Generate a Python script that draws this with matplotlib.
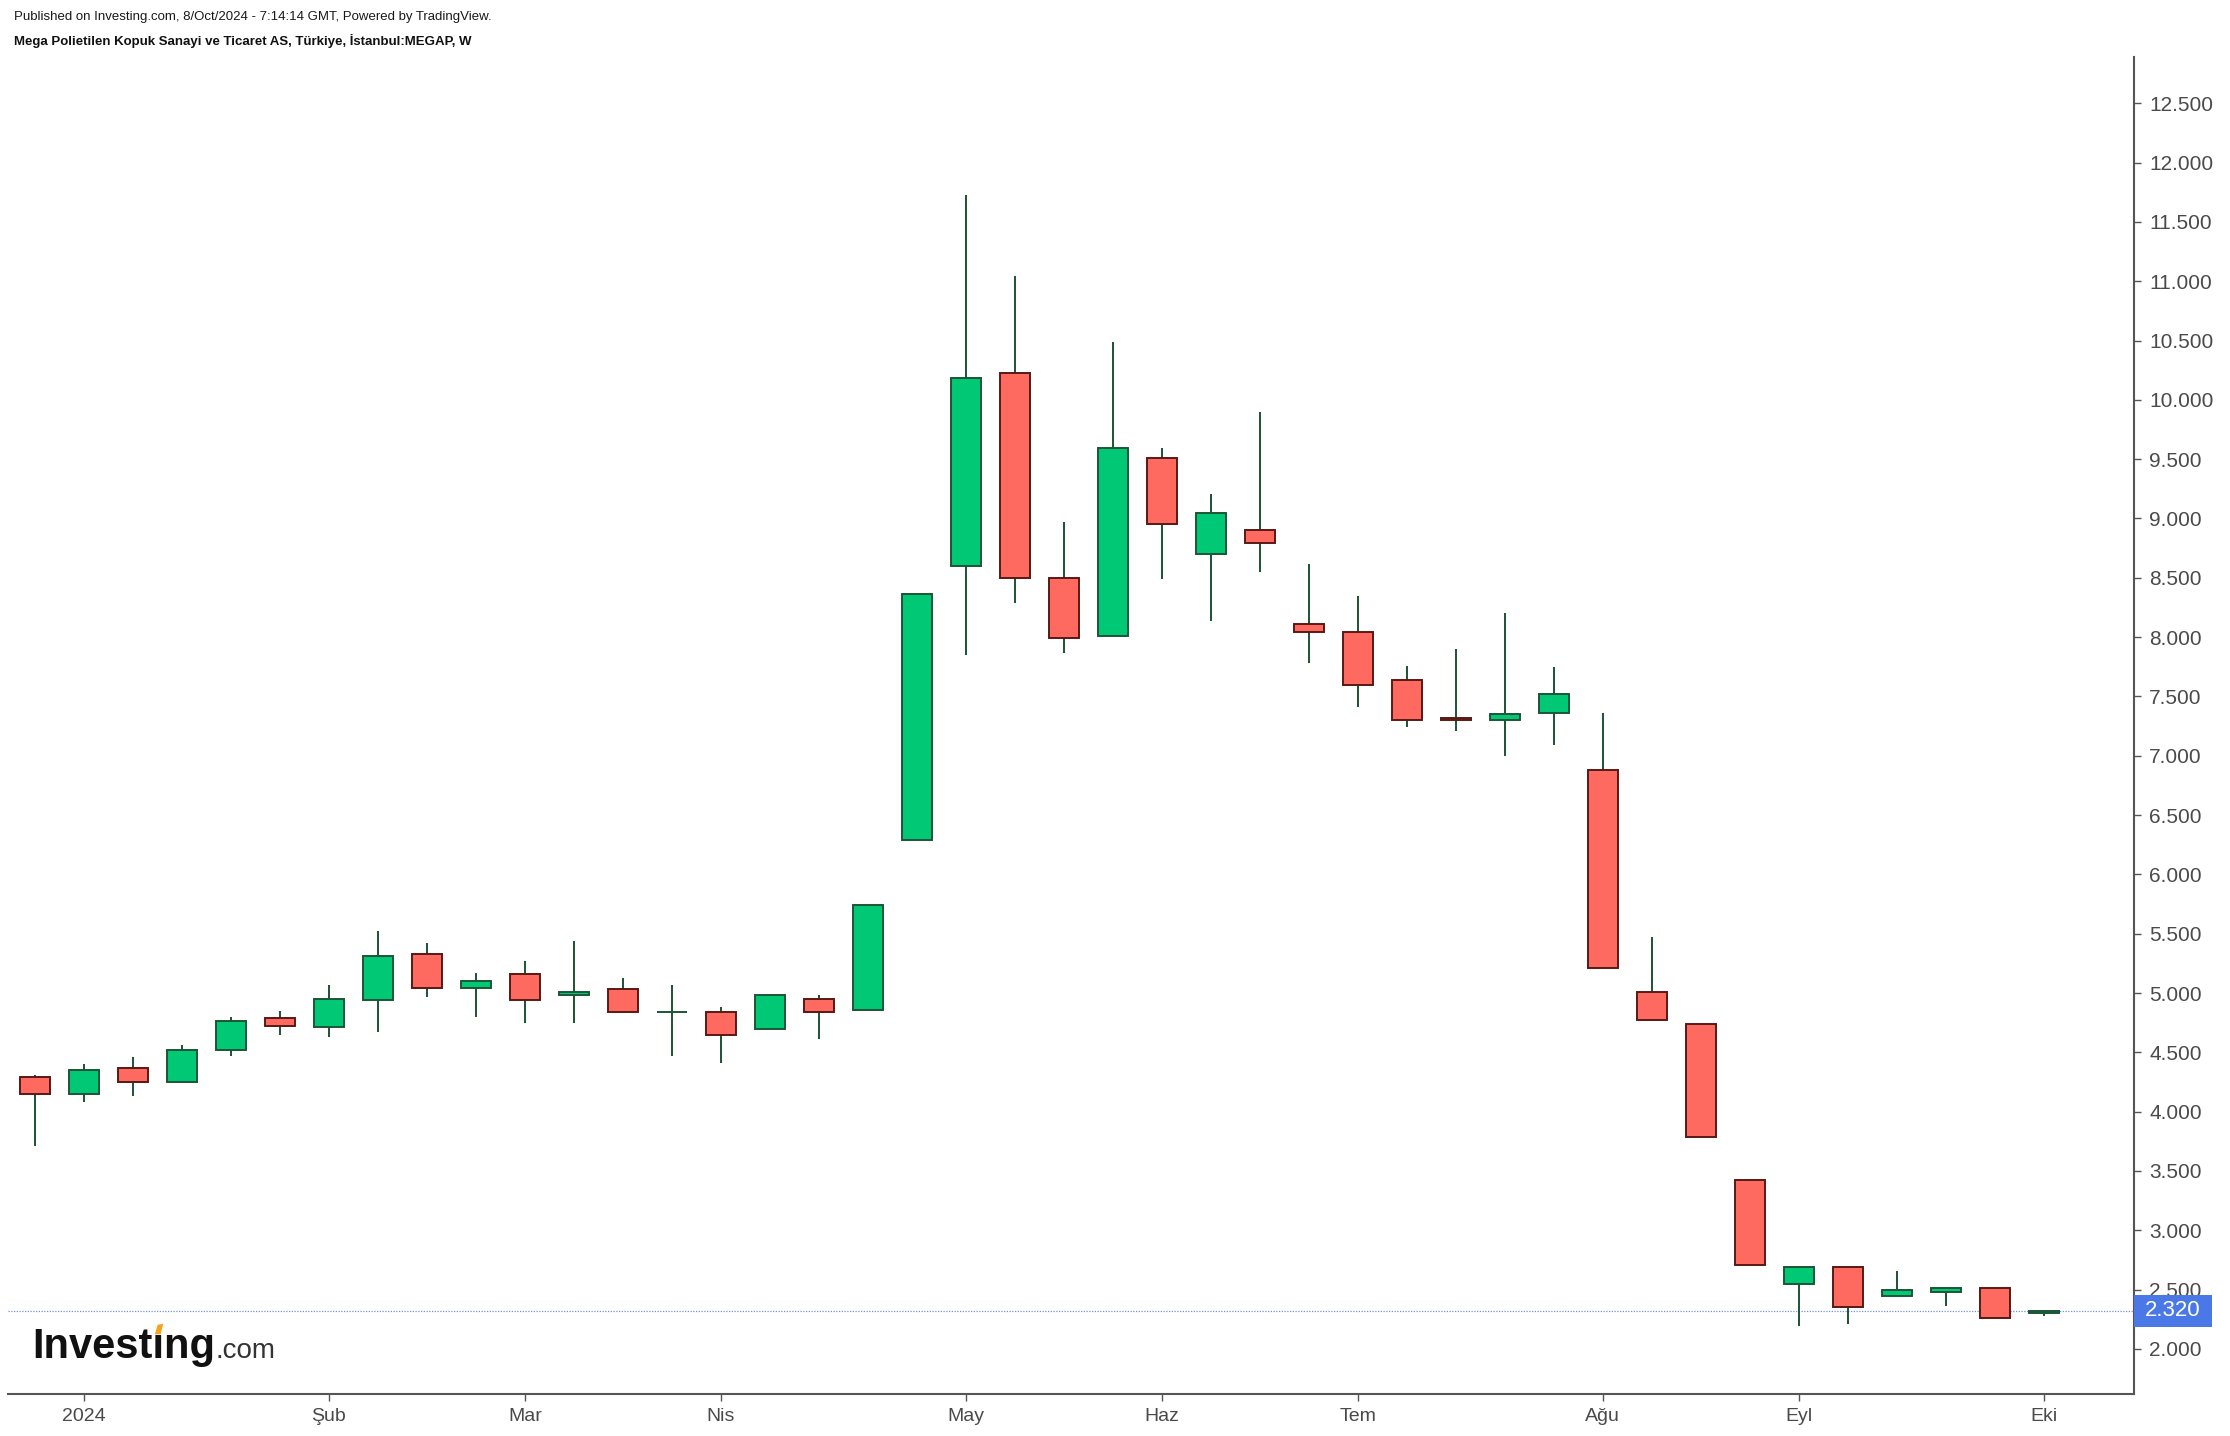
import numpy as np
import pandas as pd
import matplotlib
matplotlib.use('Agg')
import matplotlib.pyplot as plt
from matplotlib import font_manager
from matplotlib.patches import Rectangle, Polygon
from matplotlib.transforms import blended_transform_factory

# ---------------- data ----------------
week_start = pd.date_range('2023-12-25', periods=42, freq='7D')
opens = [4.29, 4.15, 4.37, 4.25, 4.52, 4.79, 4.71, 4.94, 5.33, 5.04,
         5.16, 4.98, 5.03, 4.84, 4.84, 4.70, 4.95, 4.86, 6.29, 8.60,
         10.23, 8.50, 8.01, 9.51, 8.70, 8.90, 8.11, 8.04, 7.64, 7.32,
         7.30, 7.36, 6.88, 5.01, 4.74, 3.42, 2.55, 2.69, 2.45, 2.48,
         2.51, 2.30]
highs = [4.31, 4.40, 4.46, 4.56, 4.80, 4.85, 5.07, 5.52, 5.42, 5.17,
         5.27, 5.44, 5.13, 5.07, 4.88, 4.99, 4.98, 5.74, 8.36, 11.73,
         11.04, 8.97, 10.49, 9.59, 9.21, 9.90, 8.62, 8.35, 7.76, 7.90,
         8.20, 7.75, 7.36, 5.47, 4.74, 3.42, 2.69, 2.69, 2.66, 2.51,
         2.51, 2.32]
lows = [3.71, 4.08, 4.13, 4.25, 4.47, 4.65, 4.63, 4.67, 4.97, 4.80,
        4.75, 4.75, 4.84, 4.47, 4.41, 4.70, 4.61, 4.86, 6.29, 7.85,
        8.29, 7.87, 8.01, 8.49, 8.14, 8.55, 7.78, 7.41, 7.24, 7.21,
        7.00, 7.09, 5.21, 4.77, 3.79, 2.71, 2.19, 2.21, 2.45, 2.36,
        2.26, 2.28]
closes = [4.15, 4.35, 4.25, 4.52, 4.76, 4.72, 4.95, 5.31, 5.04, 5.10,
          4.94, 5.01, 4.84, 4.84, 4.65, 4.98, 4.84, 5.74, 8.36, 10.18,
          8.50, 7.99, 9.59, 8.95, 9.05, 8.79, 8.04, 7.60, 7.30, 7.30,
          7.35, 7.52, 5.21, 4.77, 3.79, 2.71, 2.69, 2.35, 2.50, 2.51,
          2.26, 2.32]
last_price = 2.32
month_names = ['Oca', 'Şub', 'Mar', 'Nis', 'May', 'Haz', 'Tem', 'Ağu',
               'Eyl', 'Eki', 'Kas', 'Ara']
y_ticks = [2.0, 2.5, 3.0, 3.5, 4.0, 4.5, 5.0, 5.5, 6.0, 6.5, 7.0, 7.5,
           8.0, 8.5, 9.0, 9.5, 10.0, 10.5, 11.0, 11.5, 12.0, 12.5]
header1 = 'Published on Investing.com, 8/Oct/2024 - 7:14:14 GMT, Powered by TradingView.'
header2 = 'Mega Polietilen Kopuk Sanayi ve Ticaret AS, Türkiye, İstanbul:MEGAP, W'

# ---------------- style ----------------
W, H = 2230, 1436
UP_FILL, DOWN_FILL = '#00C875', '#FF6A60'
UP_EDGE, DOWN_EDGE = '#1C5536', '#5A1814'
WICK = '#1B5234'
AXIS_C = '#555555'
LABEL_C = '#4a4a4a'

names = {f.name for f in font_manager.fontManager.ttflist}
has_narrow = 'Liberation Sans Narrow' in names
NARROW = ['Liberation Sans Narrow', 'Liberation Sans', 'DejaVu Sans'] if has_narrow else ['Liberation Sans', 'DejaVu Sans']
REG = ['Liberation Sans', 'DejaVu Sans']
plt.rcParams['font.family'] = REG

fig = plt.figure(figsize=(W / 100, H / 100), dpi=100)
ax_l, ax_r, ax_t, ax_b = 8, 2134, 57, 1394
ax = fig.add_axes([ax_l / W, 1 - ax_b / H, (ax_r - ax_l) / W, (ax_b - ax_t) / H])

n = len(opens)
x = np.arange(n)
o = np.array(opens); c = np.array(closes)
up = c >= o
bottoms = np.minimum(o, c)
heights = np.abs(c - o)
fills = [UP_FILL if u else DOWN_FILL for u in up]
edges = [UP_EDGE if u else DOWN_EDGE for u in up]

ax.vlines(x, lows, highs, color=WICK, lw=1.4, zorder=2)
ax.bar(x, heights, bottom=bottoms, width=0.6, color=fills, edgecolor=edges,
       linewidth=1.4, zorder=3)

y_lo, y_hi = 1.62, 12.89
ax.set_xlim(-0.551, 42.84)
ax.set_ylim(y_lo, y_hi)

# price line
ax.axhline(last_price, color='#7090ea', lw=0.9, ls=(0, (1, 1.2)), zorder=1)

# spines
for s in ['left', 'top']:
    ax.spines[s].set_visible(False)
for s in ['right', 'bottom']:
    ax.spines[s].set_color(AXIS_C)
    ax.spines[s].set_linewidth(1.5)

# y axis
ax.yaxis.tick_right()
ax.set_yticks(y_ticks)
ax.set_yticklabels([f'{v:.3f}' for v in y_ticks])
ax.tick_params(axis='y', direction='out', length=5, width=1, color=AXIS_C,
               labelcolor=LABEL_C, labelsize=15, pad=6)

# x axis: first week starting in each new month
tick_pos, tick_lab = [], []
for i, d in enumerate(week_start):
    if i == 0:
        continue
    if d.month != week_start[i - 1].month:
        tick_pos.append(i)
        tick_lab.append(str(d.year) if d.month == 1 else month_names[d.month - 1])
ax.set_xticks(tick_pos)
ax.set_xticklabels(tick_lab, family=NARROW)
ax.tick_params(axis='x', direction='out', length=5, width=1, color=AXIS_C,
               labelcolor=LABEL_C, labelsize=16 if has_narrow else 14, pad=5)

# price label box
trans = blended_transform_factory(ax.transAxes, ax.transData)
px_per_unit = (ax_b - ax_t) / (y_hi - y_lo)
bw = 78 / (ax_r - ax_l)
bh = 32 / px_per_unit
ax.add_patch(Rectangle((1.0, last_price - bh / 2), bw, bh, transform=trans,
                       facecolor='#4A78E6', edgecolor='none', clip_on=False, zorder=10))
ax.text(1.0 + bw / 2, last_price, f'{last_price:.3f}', transform=trans, ha='center',
        va='center', color='white', fontsize=16, zorder=11, clip_on=False)

# header
hs = 11.5 if has_narrow else 9.5
fig.text(14 / W, 1 - 17 / H, header1, fontsize=hs, va='center', ha='left',
         color='#1a1a1a', family=NARROW)
fig.text(14 / W, 1 - 41 / H, header2, fontsize=hs, va='center', ha='left',
         color='#111111', weight='bold', family=NARROW)

# logo
base_y = 1 - 1358 / H
x0 = 32
fs_logo = 30
t1 = fig.text(x0 / W, base_y, 'Investıng', fontsize=fs_logo, weight='bold', va='baseline',
              ha='left', color='#111111')
fig.canvas.draw()
r = fig.canvas.get_renderer()
bb1 = t1.get_window_extent(r)
tmp = fig.text(x0 / W, base_y, 'Invest', fontsize=fs_logo, weight='bold', va='baseline', ha='left')
w_a = tmp.get_window_extent(r).width
tmp.set_text('Investı')
w_b = tmp.get_window_extent(r).width
tmp.remove()
fig.text(bb1.x1 / W, base_y, '.com', fontsize=20, va='baseline', ha='left', color='#333333')
em = fs_logo * 100 / 72
cx = x0 + (w_a + w_b) / 2
by = H - 1358
pts = [(cx - 0.08 * em, by + 0.57 * em), (cx + 0.06 * em, by + 0.57 * em),
       (cx + 0.12 * em, by + 0.82 * em), (cx - 0.01 * em, by + 0.80 * em)]
pts = [(px / W, py / H) for px, py in pts]
fig.patches.append(Polygon(pts, closed=True, transform=fig.transFigure,
                           facecolor='#F7A21B', edgecolor='none'))

fig.savefig('out.png', dpi=100)
